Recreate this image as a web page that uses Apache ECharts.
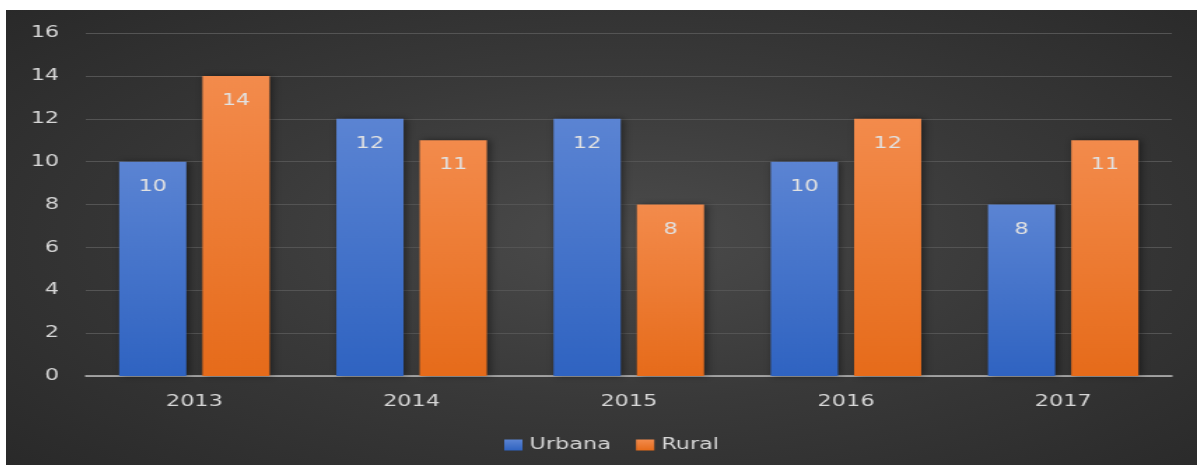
<!DOCTYPE html>
<html>
<head>
<meta charset="utf-8">
<script src="https://cdn.jsdelivr.net/npm/echarts@6/dist/echarts.min.js"></script>
<style>
  html, body { margin: 0; padding: 0; background: #ffffff; overflow: hidden; }
  #frame {
    position: absolute; left: 6px; top: 10px; width: 1191px; height: 455px; overflow: hidden;
    background: radial-gradient(ellipse 75% 80% at 52% 50%, #4b4b4b 0%, #393939 45%, #272727 100%);
  }
  /* The chart is laid out narrower and widened horizontally, giving the broad lettering */
  #chart {
    width: 851px; height: 455px;
    transform: scaleX(1.39953); transform-origin: 0 0;
  }
</style>
</head>
<body>
<div id="frame"><div id="chart"></div></div>
<script>
// Years on the category axis
const years = ['2013', '2014', '2015', '2016', '2017'];
// Values per series
const urbana = [10, 12, 12, 10, 8];
const rural = [14, 11, 8, 12, 11];
const seriesNames = ['Urbana', 'Rural'];

const FONT = 'DejaVu Sans';
const TEXT = '#d6d6d6';

function vGrad(top, bottom) {
  return new echarts.graphic.LinearGradient(0, 0, 0, 1, [
    { offset: 0, color: top },
    { offset: 1, color: bottom }
  ]);
}

const labelStyle = {
  show: true,
  position: 'insideTop',
  distance: 17,
  color: '#e2e2e2',
  fontFamily: FONT,
  fontSize: 16
};

const shadow = {
  shadowColor: 'rgba(0,0,0,0.45)',
  shadowBlur: 6,
  shadowOffsetX: 2,
  shadowOffsetY: 0
};

const chart = echarts.init(document.getElementById('chart'), null, { renderer: 'canvas' });
chart.setOption({
  backgroundColor: 'transparent',
  animation: false,
  grid: { left: 57, right: 18, top: 23, bottom: 89, containLabel: false },
  legend: {
    data: seriesNames,
    bottom: 7,
    left: 351,
    itemWidth: 13,
    itemHeight: 11,
    itemGap: 18,
    icon: 'rect',
    textStyle: { color: TEXT, fontFamily: FONT, fontSize: 16 }
  },
  xAxis: {
    type: 'category',
    data: years,
    axisLine: { lineStyle: { color: '#bdbdbd', width: 1.5 } },
    axisTick: { show: false },
    axisLabel: { color: TEXT, fontFamily: FONT, fontSize: 16, margin: 18 }
  },
  yAxis: {
    type: 'value',
    min: 0,
    max: 16,
    interval: 2,
    axisLine: { show: false },
    axisTick: { show: false },
    axisLabel: { color: TEXT, fontFamily: FONT, fontSize: 16, margin: 19 },
    splitLine: { lineStyle: { color: '#545454', width: 1 } }
  },
  series: [
    {
      name: seriesNames[0],
      type: 'bar',
      data: urbana,
      barWidth: 48,
      barGap: '24%',
      itemStyle: Object.assign({ color: vGrad('#5b84d3', '#2f63c1') }, shadow),
      label: labelStyle
    },
    {
      name: seriesNames[1],
      type: 'bar',
      data: rural,
      barWidth: 48,
      itemStyle: Object.assign({ color: vGrad('#f38b4c', '#e66b1a') }, shadow),
      label: labelStyle
    }
  ]
});
</script>
</body>
</html>
